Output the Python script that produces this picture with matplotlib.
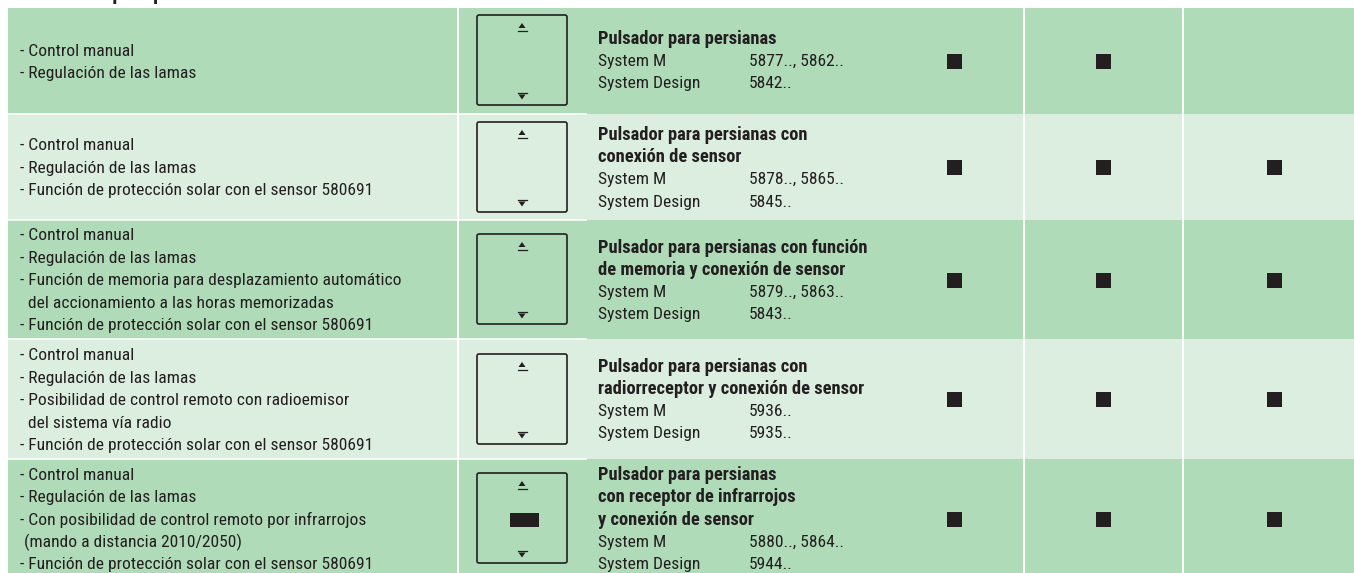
from matplotlib import pyplot as plt
from matplotlib.patches import FancyBboxPatch, Polygon, Rectangle

WIDTH, HEIGHT = 1354, 573
DARK = "#b0dbb8"
LIGHT = "#dceedf"
INK = "#231f20"

plt.rcParams["font.family"] = ["Roboto Condensed", "Liberation Sans", "DejaVu Sans"]

heading = "Pulsador para persianas"

features = [
    ["- Control manual", "- Regulación de las lamas"],
    ["- Control manual", "- Regulación de las lamas",
     "- Función de protección solar con el sensor 580691"],
    ["- Control manual", "- Regulación de las lamas",
     "- Función de memoria para desplazamiento automático",
     "  del accionamiento a las horas memorizadas",
     "- Función de protección solar con el sensor 580691"],
    ["- Control manual", "- Regulación de las lamas",
     "- Posibilidad de control remoto con radioemisor",
     "  del sistema vía radio",
     "- Función de protección solar con el sensor 580691"],
    ["- Control manual", "- Regulación de las lamas",
     "- Con posibilidad de control remoto por infrarrojos",
     " (mando a distancia 2010/2050)",
     "- Función de protección solar con el sensor 580691"],
]
product_names = [
    ["Pulsador para persianas"],
    ["Pulsador para persianas con", "conexión de sensor"],
    ["Pulsador para persianas con función", "de memoria y conexión de sensor"],
    ["Pulsador para persianas con", "radiorreceptor y conexión de sensor"],
    ["Pulsador para persianas", "con receptor de infrarrojos", "y conexión de sensor"],
]
system_labels = ["System M", "System Design"]
system_m_codes = ["5877.., 5862..", "5878.., 5865..", "5879.., 5863..", "5936..", "5880.., 5864.."]
system_design_codes = ["5842..", "5845..", "5843..", "5935..", "5944.."]
marks = [
    [1, 1, 0],
    [1, 1, 1],
    [1, 1, 1],
    [1, 1, 1],
    [1, 1, 1],
]
has_receiver = [False, False, False, False, True]

# layout, in pixels of the page
row_edges = [8, 113.5, 220, 339, 459, 573]
col_lines = [458, 1024, 1183]
mark_x = [954.5, 1103.5, 1274]
mark_y = [61.5, 167.5, 280.5, 399.5, 519.5]
panel_top = [15, 122, 234, 354, 473]
feature_top = [51.5, 146, 236, 356, 475]
product_top = [39, 135, 247.7, 366.7, 475]
LINE = 22.4
FONT_SIZE = 12.6
BOLD_SIZE = 13.3


def draw_panel(ax, top):
    left, size = 477, 90
    ax.add_patch(FancyBboxPatch((left + 2, top + 2), size - 4, size - 4,
                                boxstyle="round,pad=2", fc="none", ec=INK, lw=1.2))
    cx = left + size / 2
    ax.add_patch(Polygon([(cx - 3.5, top + 13), (cx + 3.5, top + 13), (cx, top + 8)], fc=INK, ec="none"))
    ax.plot([cx - 4.5, cx + 4.5], [top + 15.5, top + 15.5], color=INK, lw=0.9)
    bottom = top + size
    ax.add_patch(Polygon([(cx - 3.5, bottom - 10.5), (cx + 3.5, bottom - 10.5), (cx, bottom - 5.5)],
                         fc=INK, ec="none"))
    ax.plot([cx - 4.5, cx + 4.5], [bottom - 12.5, bottom - 12.5], color=INK, lw=0.9)


def main():
    fig = plt.figure(figsize=(WIDTH / 100, HEIGHT / 100), dpi=100)
    ax = fig.add_axes([0, 0, 1, 1])
    ax.set_xlim(0, WIDTH)
    ax.set_ylim(HEIGHT, 0)
    ax.axis("off")

    for i in range(5):
        color = DARK if i % 2 == 0 else LIGHT
        ax.add_patch(Rectangle((8, row_edges[i]), WIDTH - 8, row_edges[i + 1] - row_edges[i],
                               fc=color, ec="none"))
    for edge in row_edges[1:-1]:
        ax.plot([8, 586], [edge, edge], color="white", lw=1.2)
    for x in col_lines:
        ax.plot([x, x], [row_edges[0], HEIGHT], color="white", lw=1.4)

    # the page crop cuts this heading off, only its lower edge is visible
    ax.text(35, 0, heading, fontsize=14.7, fontweight="bold", color=INK, va="baseline")

    for i in range(5):
        for j, line in enumerate(features[i]):
            ax.text(20, feature_top[i] + j * LINE, line, fontsize=FONT_SIZE, color=INK, va="center")

        y = product_top[i]
        for name in product_names[i]:
            ax.text(598, y, name, fontsize=BOLD_SIZE, fontweight="bold", color=INK, va="center")
            y += LINE
        for label, code in zip(system_labels, [system_m_codes[i], system_design_codes[i]]):
            ax.text(598, y, label, fontsize=FONT_SIZE, color=INK, va="center")
            ax.text(749, y, code, fontsize=FONT_SIZE, color=INK, va="center")
            y += LINE

        draw_panel(ax, panel_top[i])
        if has_receiver[i]:
            ax.add_patch(Rectangle((509.5, panel_top[i] + 39.5), 29, 14.5, fc=INK, ec="none"))

        for x, on in zip(mark_x, marks[i]):
            if on:
                ax.add_patch(Rectangle((x - 7.5, mark_y[i] - 7.5), 15, 15, fc=INK, ec="none"))

    fig.savefig("out.png", dpi=100)
    return 0


if __name__ == "__main__":
    main()
